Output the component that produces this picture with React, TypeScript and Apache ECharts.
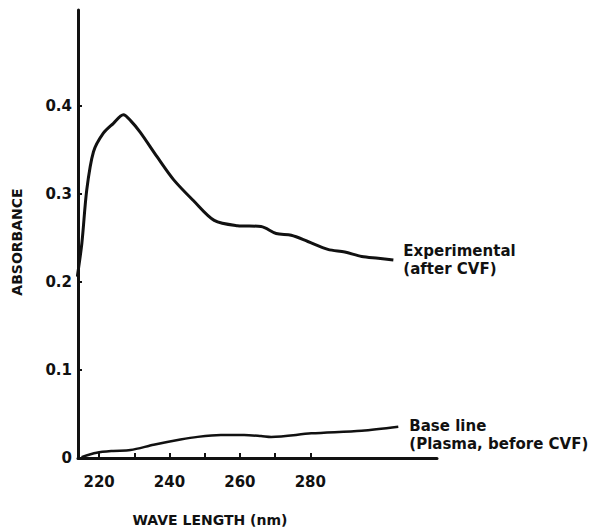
import React, { useEffect, useRef } from "react";
import * as echarts from "echarts";

const expX = [213.8, 215.1, 216.5, 218.4, 221.2, 224, 226.9, 229, 231.7, 236.5, 241.2, 246.9, 252.7, 259.3, 266, 270.3, 274.6, 279.3, 285, 289.8, 294.6, 299.3, 303.6];
const expY = [0.206, 0.244, 0.305, 0.348, 0.369, 0.38, 0.39, 0.383, 0.37, 0.342, 0.316, 0.292, 0.27, 0.264, 0.263, 0.255, 0.253, 0.246, 0.237, 0.234, 0.229, 0.227, 0.225];
const baseX = [215, 219.3, 224, 228.9, 235.5, 243.1, 248, 254.6, 261.2, 266, 268.9, 280.3, 294.6, 305];
const baseY = [0.001, 0.006, 0.008, 0.009, 0.015, 0.021, 0.024, 0.026, 0.026, 0.025, 0.024, 0.028, 0.031, 0.0355];
const xTicks = [220, 230, 240, 250, 260, 270, 280];
const xLabels = [220, 240, 260, 280];
const yTicks = [0, 0.1, 0.2, 0.3, 0.4];
const expLabel = "Experimental\n(after CVF)";
const baseLabel = "Base line\n(Plasma, before CVF)";
const xName = "WAVE LENGTH (nm)";
const yName = "ABSORBANCE";

const INK = "#111";
const FONT = "DejaVu Sans";

export default function App() {
  const ref = useRef<HTMLDivElement>(null);
  useEffect(() => {
    if (!ref.current) return;
    const chart = echarts.init(ref.current, null, { renderer: "svg" });
    const lbl = {
      color: INK,
      fontFamily: FONT,
      fontWeight: "bold" as const,
      fontSize: 15,
      lineHeight: 18,
    };
    chart.setOption({
      animation: false,
      backgroundColor: "#fff",
      grid: { left: 78, right: 154, top: 10, bottom: 73, outerBoundsMode: "none", containLabel: false },
      xAxis: {
        type: "value",
        min: 214,
        max: 316,
        name: xName,
        nameLocation: "middle",
        nameGap: 54,
        nameTextStyle: { ...lbl, fontSize: 14, lineHeight: 16, padding: [0, 95, 0, 0] },
        axisLine: { show: true, lineStyle: { color: INK, width: 3 } },
        axisTick: { show: true, inside: true, length: 5, lineStyle: { color: INK, width: 2 }, customValues: xTicks },
        axisLabel: { ...lbl, margin: 15, customValues: xLabels },
        splitLine: { show: false },
      },
      yAxis: {
        type: "value",
        min: 0,
        max: 0.509,
        name: yName,
        nameLocation: "middle",
        nameRotate: 90,
        nameGap: 52,
        nameTextStyle: { ...lbl, fontSize: 14, padding: [0, 16, 0, 0] },
        axisLine: { show: true, lineStyle: { color: INK, width: 3 } },
        axisTick: { show: true, inside: true, length: 4, lineStyle: { color: INK, width: 2 }, customValues: yTicks },
        axisLabel: {
          ...lbl,
          margin: 6,
          customValues: yTicks,
          formatter: (v: number) => (v === 0 ? "0" : v.toFixed(1)),
        },
        splitLine: { show: false },
      },
      series: [
        {
          type: "line",
          data: expX.map((x, i) => [x, expY[i]]),
          smooth: 0.3,
          showSymbol: false,
          lineStyle: { color: INK, width: 3 },
          endLabel: { show: true, formatter: expLabel, ...lbl, distance: 0, offset: [10, 0] },
        },
        {
          type: "line",
          data: baseX.map((x, i) => [x, baseY[i]]),
          smooth: 0.3,
          showSymbol: false,
          lineStyle: { color: INK, width: 2.5 },
          endLabel: { show: true, formatter: baseLabel, ...lbl, distance: 0, offset: [11, 8] },
        },
      ],
    });
    return () => chart.dispose();
  }, []);
  return (
    <div
      ref={ref}
      style={{ position: "fixed", left: 0, top: 0, width: 591, height: 531 }}
    />
  );
}
